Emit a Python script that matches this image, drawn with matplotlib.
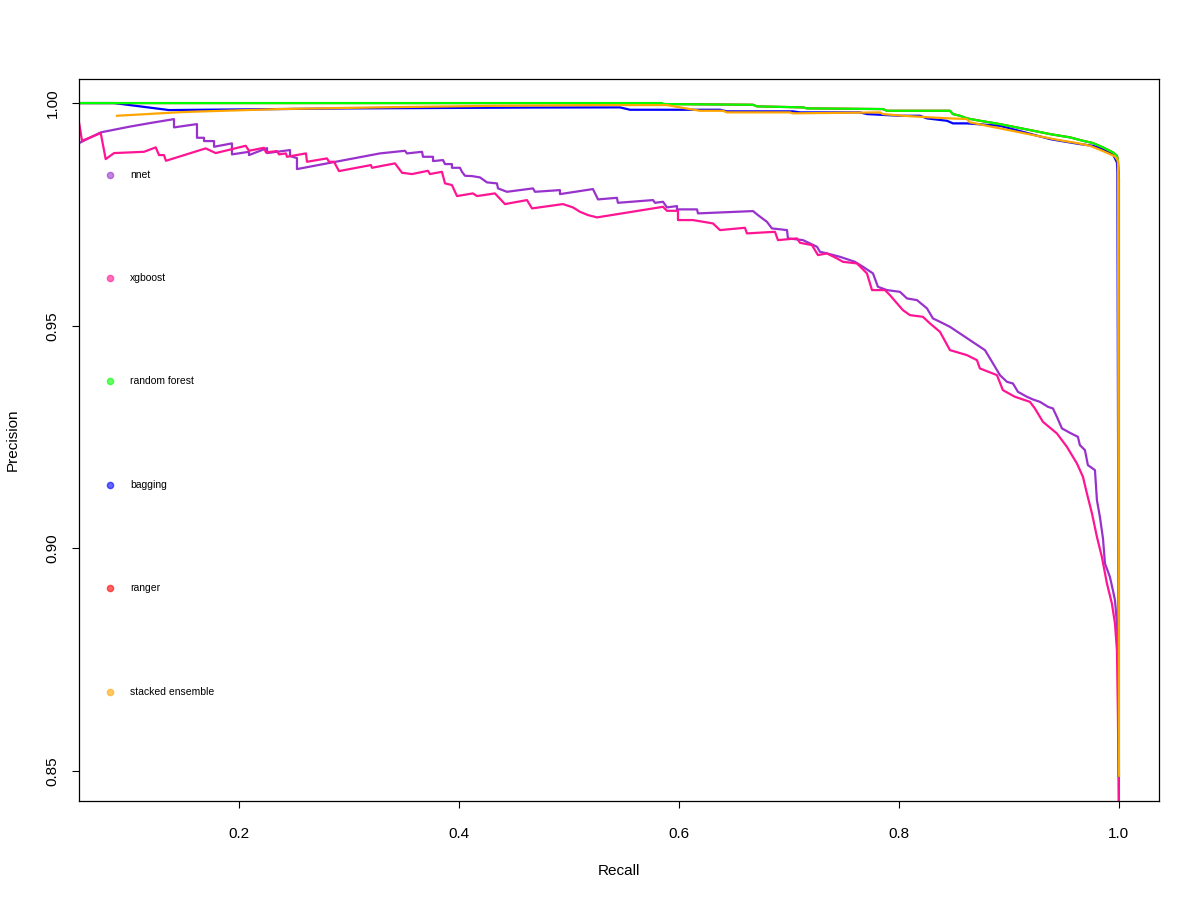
import matplotlib
matplotlib.use("Agg")
import matplotlib.pyplot as plt

plt.rcParams["font.family"] = ["Liberation Sans", "DejaVu Sans"]

# Precision-recall curves, values
nnet_recall = [0.0545, 0.0743, 0.1000, 0.1191, 0.1409, 0.1409, 0.1618, 0.1618, 0.1682, 0.1682, 0.1773, 0.1773, 0.1936,
               0.1936, 0.2091, 0.2091, 0.2255, 0.2255, 0.2464, 0.2464, 0.2527, 0.2527, 0.3282,
               0.3509, 0.3527, 0.3664, 0.3673, 0.3764, 0.3764, 0.3855, 0.3873, 0.3936, 0.3936,
               0.4009, 0.4027, 0.4055, 0.4118, 0.4191, 0.4255, 0.4345, 0.4355, 0.4436, 0.4673,
               0.4691, 0.4918, 0.4918, 0.5218, 0.5264, 0.5436, 0.5445, 0.5764, 0.5782, 0.5855,
               0.5891, 0.5982, 0.5982, 0.6164, 0.6173, 0.6673, 0.6718, 0.6800, 0.6845, 0.6982,
               0.6991, 0.7127, 0.7191, 0.7255, 0.7282, 0.7345, 0.7464, 0.7600, 0.7673, 0.7764,
               0.7809, 0.7891, 0.8009, 0.8073, 0.8164, 0.8255, 0.8309, 0.8373, 0.8464, 0.8645,
               0.8782, 0.8855, 0.8918, 0.8982, 0.9036, 0.9082, 0.9164, 0.9218, 0.9282, 0.9355,
               0.9400, 0.9436, 0.9482, 0.9555, 0.9627, 0.9645, 0.9691, 0.9718, 0.9782, 0.9800,
               0.9827, 0.9855, 0.9873, 0.9918, 0.9945, 0.9964, 0.9982, 0.9991, 0.9995, 1.0, 1.0]
nnet_precision = [0.9910, 0.99342, 0.99468, 0.99551, 0.9964, 0.99454, 0.99528, 0.99221, 0.99221, 0.99147, 0.99147, 0.99019, 0.99095,
                  0.98848, 0.98906, 0.98832, 0.98989, 0.98877, 0.98945, 0.98810, 0.98765, 0.98518, 0.98870,
                  0.98929, 0.98870, 0.98906, 0.98794, 0.98794, 0.98698, 0.98720, 0.98630, 0.98630, 0.98547,
                  0.98547, 0.98457, 0.98367, 0.98361, 0.98331, 0.98219, 0.98197, 0.98084, 0.98008, 0.98084,
                  0.98008, 0.98046, 0.97956, 0.98069, 0.97837, 0.97873, 0.97761, 0.97822, 0.97761, 0.97784,
                  0.97658, 0.97687, 0.97613, 0.97613, 0.97523, 0.97575, 0.97485, 0.97334, 0.97186, 0.97148,
                  0.96962, 0.96923, 0.96849, 0.96773, 0.96661, 0.96625, 0.96548, 0.96436, 0.96324, 0.96176,
                  0.95875, 0.95801, 0.95762, 0.95614, 0.95576, 0.95390, 0.95165, 0.95089, 0.94976, 0.94678,
                  0.94453, 0.94155, 0.93892, 0.93741, 0.93705, 0.93517, 0.93405, 0.93346, 0.93292, 0.93180,
                  0.93144, 0.92955, 0.92695, 0.92596, 0.92506, 0.92320, 0.92208, 0.91871, 0.91759, 0.91085,
                  0.90710, 0.90225, 0.89663, 0.89362, 0.89064, 0.88839, 0.88316, 0.87716, 0.86593, 0.8480, 0.840]

xgb_recall = [0.0545, 0.0573, 0.0743, 0.0788, 0.0864, 0.1136, 0.1243, 0.1273, 0.1318, 0.1336,
              0.1697, 0.1788, 0.2061, 0.2091, 0.2227, 0.2245, 0.2345, 0.2364, 0.2427, 0.2436,
              0.2609, 0.2618, 0.2800, 0.2818, 0.2864, 0.2909, 0.3200, 0.3209, 0.3418, 0.3482,
              0.3573, 0.3718, 0.3736, 0.3845, 0.3873, 0.3936, 0.3982, 0.4127, 0.4164, 0.4327,
              0.4418, 0.4618, 0.4664, 0.4945, 0.5036, 0.5100, 0.5173, 0.5255, 0.5855, 0.5891,
              0.5991, 0.5991, 0.6127, 0.6309, 0.6373, 0.6600, 0.6618, 0.6873, 0.6900, 0.7073,
              0.7100, 0.7209, 0.7264, 0.7345, 0.7436, 0.7491, 0.7618, 0.7709, 0.7755, 0.7873,
              0.7918, 0.8036, 0.8100, 0.8218, 0.8282, 0.8373, 0.8464, 0.8618, 0.8709, 0.8736,
              0.8891, 0.8945, 0.9055, 0.9191, 0.9236, 0.9309, 0.9436, 0.9527, 0.9618, 0.9673,
              0.9709, 0.9755, 0.9800, 0.9845, 0.9891, 0.9936, 0.9964, 0.9982, 0.9991, 1.0]
xgb_precision = [0.99573, 0.99153, 0.99326, 0.98742, 0.98877, 0.98906, 0.99005, 0.98832, 0.98832, 0.98704,
                 0.98983, 0.98877, 0.99041, 0.98929, 0.98996, 0.98893, 0.98922, 0.98848, 0.98870, 0.98794,
                 0.98870, 0.98682, 0.98758, 0.98682, 0.98682, 0.98473, 0.98608, 0.98547, 0.98646, 0.98435,
                 0.98406, 0.98480, 0.98406, 0.98457, 0.98197, 0.98159, 0.97912, 0.97972, 0.97912, 0.97972,
                 0.97732, 0.97822, 0.97635, 0.97732, 0.97658, 0.97559, 0.97485, 0.97433, 0.97671, 0.97581,
                 0.97581, 0.97373, 0.97373, 0.97298, 0.97148, 0.97200, 0.97074, 0.97110, 0.96923, 0.96962,
                 0.96863, 0.96811, 0.96587, 0.96625, 0.96512, 0.96436, 0.96400, 0.96176, 0.95801, 0.95801,
                 0.95688, 0.95351, 0.95239, 0.95201, 0.95053, 0.94864, 0.94453, 0.94341, 0.94229, 0.94042,
                 0.93892, 0.93555, 0.93405, 0.93292, 0.93144, 0.92843, 0.92583, 0.92282, 0.91909, 0.91608,
                 0.91235, 0.90786, 0.90260, 0.89811, 0.89214, 0.88765, 0.88316, 0.87716, 0.86218, 0.840]

rf_recall = [0.0545, 0.5845, 0.5855, 0.6673, 0.6709, 0.7127, 0.7164, 0.7855, 0.7891, 0.8464,
             0.8491, 0.8555, 0.8618, 0.8736, 0.8918, 0.9373, 0.9464, 0.9555, 0.9673, 0.9764,
             0.9855, 0.9945, 0.9982, 0.9991, 1.0, 1.0]
rf_precision = [1.0, 1.0, 0.99978, 0.99962, 0.99926, 0.99903, 0.99881, 0.99865, 0.99827, 0.99827,
                0.99753, 0.99715, 0.99656, 0.99603, 0.99528, 0.99304, 0.99266, 0.99230, 0.99153, 0.99102,
                0.99005, 0.98893, 0.98817, 0.98704, 0.9830, 0.849]

bag_recall = [0.0545, 0.0864, 0.1364, 0.3000, 0.4700, 0.5464, 0.5555, 0.6373, 0.6436, 0.7036,
              0.7100, 0.7645, 0.7709, 0.8009, 0.8191, 0.8255, 0.8436, 0.8491, 0.8618, 0.8918,
              0.9373, 0.9464, 0.9645, 0.9764, 0.9855, 0.9945, 0.9982, 0.9986, 1.0]
bag_precision = [1.0, 1.0, 0.99843, 0.9988, 0.9990, 0.99903, 0.9985, 0.9985, 0.99814, 0.99814,
                 0.99791, 0.99791, 0.99753, 0.99715, 0.99715, 0.99656, 0.99603, 0.99544, 0.99544, 0.9949,
                 0.99192, 0.99153, 0.99079, 0.99041, 0.98967, 0.98855, 0.98668, 0.98450, 0.849]

# ranger is hidden under random forest in the reference
ranger_recall = [0.0545, 0.5845, 0.5855, 0.6673, 0.6709, 0.7127, 0.7164, 0.7855, 0.7891, 0.8464,
                 0.8491, 0.8555, 0.8618, 0.8736, 0.8918, 0.9373, 0.9464, 0.9555, 0.9673, 0.9764,
                 0.9855, 0.9945, 0.9982, 0.9991, 1.0, 1.0]
ranger_precision = [1.0, 1.0, 0.99978, 0.99962, 0.99926, 0.99903, 0.99881, 0.99865, 0.99827, 0.99827,
                    0.99753, 0.99715, 0.99656, 0.99603, 0.99528, 0.99304, 0.99266, 0.99230, 0.99153, 0.99102,
                    0.99005, 0.98893, 0.98817, 0.98704, 0.9830, 0.849]

stack_recall = [0.0891, 0.1500, 0.2364, 0.3300, 0.4336, 0.5273, 0.5891, 0.6009, 0.6100, 0.6191,
                0.6400, 0.6436, 0.7009, 0.7036, 0.7827, 0.7855, 0.8036, 0.8282, 0.8464, 0.8618,
                0.8645, 0.8800, 0.8918, 0.9373, 0.9491, 0.9618, 0.9736, 0.9827, 0.9918, 0.9964,
                0.9991, 1.0]
stack_precision = [0.99715, 0.99800, 0.99865, 0.99905, 0.99939, 0.99955, 0.99955, 0.99903, 0.99865, 0.99827,
                   0.99827, 0.99791, 0.99791, 0.99769, 0.99791, 0.99753, 0.99715, 0.99679, 0.99656, 0.99641,
                   0.99567, 0.9949, 0.99432, 0.99207, 0.99153, 0.99102, 0.99041, 0.98951, 0.98855, 0.98803,
                   0.98704, 0.849]

models = ["nnet", "xgboost", "random forest", "bagging", "ranger", "stacked ensemble"]
colors = ["#9932CC", "#FF1493", "#00FF00", "#0000FF", "#FF0000", "#FFA500"]

fig = plt.figure(figsize=(12, 9), dpi=100)
ax = fig.add_axes([0.0658, 0.11, 0.9, 0.8022])

ax.plot(nnet_recall, nnet_precision, color=colors[0], lw=1.6)
ax.plot(xgb_recall, xgb_precision, color=colors[1], lw=1.6)
ax.plot(bag_recall, bag_precision, color=colors[3], lw=1.6)
ax.plot(ranger_recall, ranger_precision, color=colors[4], lw=1.6)
ax.plot(rf_recall, rf_precision, color=colors[2], lw=1.6)
ax.plot(stack_recall, stack_precision, color=colors[5], lw=1.6)

ax.set_xlim(0.0545, 1.0364)
ax.set_ylim(0.8433, 1.0054)
ax.set_xticks([0.2, 0.4, 0.6, 0.8, 1.0])
ax.set_xticklabels(["0.2", "0.4", "0.6", "0.8", "1.0"])
ax.set_yticks([0.85, 0.90, 0.95, 1.00])
ax.set_yticklabels(["0.85", "0.90", "0.95", "1.00"], rotation=90, va="center")
ax.tick_params(length=5, width=0.8, labelsize=11)
ax.tick_params(axis="x", pad=14)
ax.tick_params(axis="y", pad=9)
for s in ax.spines.values():
    s.set_linewidth(0.9)

ax.set_xlabel("Recall", fontsize=11)
ax.set_ylabel("Precision", fontsize=11)
ax.xaxis.set_label_coords(0.5, -0.087)
ax.yaxis.set_label_coords(-0.055, 0.5)

# legend, spread down the left side as in the reference
legend_y = [0.867, 0.724, 0.582, 0.438, 0.295, 0.151]
for name, c, yy in zip(models, colors, legend_y):
    ax.plot([0.0287], [yy], "o", ms=4.5, color=c, alpha=0.6, transform=ax.transAxes, clip_on=False)
    ax.text(0.0472, yy, name, fontsize=7.5, va="center", ha="left", transform=ax.transAxes)

fig.savefig("out.png", dpi=100)
